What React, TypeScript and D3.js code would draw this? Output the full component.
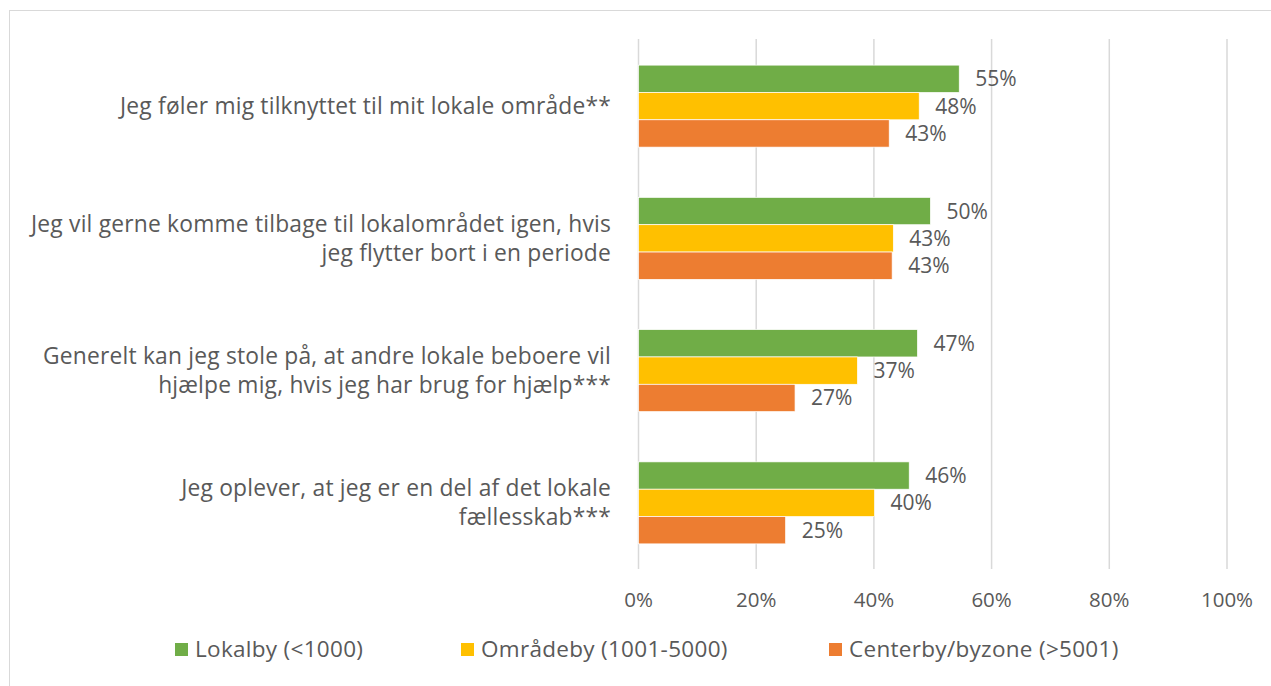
import React from "react";
import * as d3 from "d3";

const categories: string[][] = [
  ["Jeg føler mig tilknyttet til mit lokale område**"],
  ["Jeg vil gerne komme tilbage til lokalområdet igen, hvis", "jeg flytter bort i en periode"],
  ["Generelt kan jeg stole på, at andre lokale beboere vil", "hjælpe mig, hvis jeg har brug for hjælp***"],
  ["Jeg oplever, at jeg er en del af det lokale", "fællesskab***"],
];
const seriesNames = ["Lokalby (<1000)", "Områdeby (1001-5000)", "Centerby/byzone (>5001)"];
const lokalby = [54.5, 49.6, 47.4, 46.0];
const omraadeby = [47.7, 43.3, 37.2, 40.1];
const centerby = [42.6, 43.1, 26.6, 25.0];
const seriesColors = ["#70AD47", "#FFC000", "#ED7D31"];
const xTicks = [0, 20, 40, 60, 80, 100];

const FONT = "'Open Sans', Lato, sans-serif";
const TEXT = "#595959";
const GRID = "#D9D9D9";

export default function App() {
  const W = 1271, H = 686;
  const series = [lokalby, omraadeby, centerby];
  const x = d3.scaleLinear().domain([0, 100]).range([638.5, 1227]);
  const y = d3
    .scaleBand<number>()
    .domain(d3.range(categories.length))
    .range([40, 569])
    .paddingInner(0.38)
    .paddingOuter(0.19);
  const ySub = d3.scaleBand<number>().domain(d3.range(series.length)).range([0, y.bandwidth()]);
  const legendX = [175, 461, 829];
  const lineH = 29;

  return (
    <svg width={W} height={H} style={{ position: "absolute", left: 0, top: 0, background: "#fff" }} fontFamily={FONT}>
      <rect x={9.5} y={10.5} width={1400} height={800} fill="#fff" stroke={GRID} strokeWidth={1} />
      {xTicks.map((t) => (
        <g key={t}>
          <line x1={x(t)} x2={x(t)} y1={39} y2={569} stroke={GRID} strokeWidth={1.5} />
          <text x={x(t)} y={607} textAnchor="middle" fontSize={20.5} fill={TEXT}>
            {t}%
          </text>
        </g>
      ))}
      {categories.map((lines, i) => {
        const cy = (y(i) as number) + y.bandwidth() / 2;
        const startY = cy - ((lines.length - 1) * lineH) / 2;
        return (
          <text key={i} textAnchor="end" fontSize={22.8} letterSpacing={0.2} fill={TEXT}>
            {lines.map((l, j) => (
              <tspan key={j} x={611} y={startY + j * lineH + 8}>
                {l}
              </tspan>
            ))}
          </text>
        );
      })}
      {series.map((vals, s) =>
        vals.map((v, i) => {
          const by = (y(i) as number) + (ySub(s) as number);
          const bh = ySub.bandwidth();
          return (
            <g key={`${s}-${i}`}>
              <rect x={x(0)} y={by} width={x(v) - x(0)} height={bh} fill={seriesColors[s]} stroke="#fff" strokeWidth={0.7} />
              <text x={x(v) + 16} y={by + bh / 2 + 7.5} fontSize={21} fill={TEXT}>
                {Math.round(v)}%
              </text>
            </g>
          );
        })
      )}
      {seriesNames.map((n, s) => (
        <g key={n}>
          <rect x={legendX[s]} y={643} width={13} height={13} fill={seriesColors[s]} />
          <text x={legendX[s] + 20} y={657} fontSize={22.5} letterSpacing={0.3} fill={TEXT}>
            {n}
          </text>
        </g>
      ))}
    </svg>
  );
}
